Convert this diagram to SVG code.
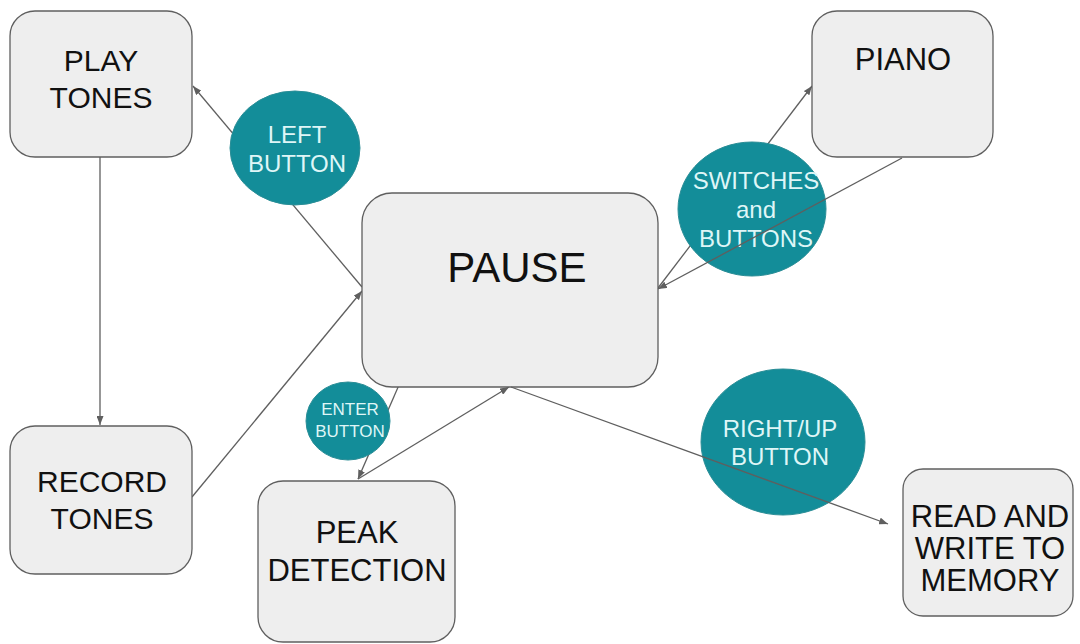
<svg xmlns="http://www.w3.org/2000/svg" width="1080" height="644" viewBox="0 0 1080 644">
  <defs>
    <style>
      .box { fill: #eeeeee; stroke: #5f5f5f; stroke-width: 1.3; }
      .btn { fill: #138d99; stroke: #2a8d96; stroke-width: 1; }
      .link { stroke: #5f5f5f; stroke-width: 1.3; fill: none; marker-end: url(#arrow); }
      .label { font-family: "Liberation Sans", Arial, sans-serif; fill: #111111; text-anchor: middle; font-size: 30px; }
      .blabel { font-family: "Liberation Sans", Arial, sans-serif; fill: #dff6f7; text-anchor: middle; font-size: 24px; }
    </style>
    <marker id="arrow" markerUnits="userSpaceOnUse" markerWidth="9" markerHeight="7" refX="9" refY="3.5" orient="auto">
      <path d="M0,0 L9,3.5 L0,7 z" fill="#5f5f5f"/>
    </marker>
  </defs>
  <rect width="1080" height="644" fill="#ffffff"/>

  <!-- connectors that pass beneath the button ovals -->
  <g id="connectors">
    <line class="link" x1="100" y1="157" x2="100" y2="425"/>
    <line class="link" x1="362" y1="287" x2="193" y2="86"/>
    <line class="link" x1="192" y1="497" x2="362" y2="291"/>
    <line class="link" x1="658" y1="288" x2="812" y2="86"/>
    <line class="link" x1="399" y1="385" x2="358" y2="479"/>
    <line class="link" x1="358" y1="479" x2="509" y2="387"/>
  </g>

  <g id="play-tones">
    <rect class="box" x="10" y="11" width="182" height="146" rx="25"/>
    <text class="label" x="101" y="71">PLAY</text>
    <text class="label" x="101" y="108">TONES</text>
  </g>

  <g id="record-tones">
    <rect class="box" x="10" y="426" width="182" height="148" rx="25"/>
    <text class="label" x="102" y="492">RECORD</text>
    <text class="label" x="102" y="529">TONES</text>
  </g>

  <g id="pause">
    <rect class="box" x="362" y="193" width="296" height="194" rx="30"/>
    <text class="label" x="517" y="282" style="font-size:42px">PAUSE</text>
  </g>

  <g id="piano">
    <rect class="box" x="812" y="11" width="181" height="146" rx="25"/>
    <text class="label" x="903" y="70" style="font-size:31px">PIANO</text>
  </g>

  <g id="peak-detection">
    <rect class="box" x="258" y="481" width="197" height="161" rx="25"/>
    <text class="label" x="357" y="543" style="font-size:31px">PEAK</text>
    <text class="label" x="357" y="581" style="font-size:31px">DETECTION</text>
  </g>

  <g id="read-write-memory">
    <rect class="box" x="903" y="469" width="170" height="147" rx="20"/>
    <text class="label" x="990" y="527" style="font-size:31px">READ AND</text>
    <text class="label" x="990" y="559" style="font-size:31px">WRITE TO</text>
    <text class="label" x="990" y="591" style="font-size:31px">MEMORY</text>
  </g>

  <g id="left-button">
    <ellipse class="btn" cx="295" cy="148" rx="65" ry="57"/>
    <text class="blabel" x="297" y="143">LEFT</text>
    <text class="blabel" x="297" y="172">BUTTON</text>
  </g>

  <g id="switches-and-buttons">
    <ellipse class="btn" cx="752" cy="209" rx="74" ry="67"/>
    <text class="blabel" x="756" y="189">SWITCHES</text>
    <text class="blabel" x="756" y="218">and</text>
    <text class="blabel" x="756" y="247">BUTTONS</text>
  </g>

  <g id="enter-button">
    <ellipse class="btn" cx="348" cy="421" rx="42" ry="39"/>
    <text class="blabel" x="350" y="415" style="font-size:17px">ENTER</text>
    <text class="blabel" x="350" y="437" style="font-size:17px">BUTTON</text>
  </g>

  <g id="right-up-button">
    <ellipse class="btn" cx="783" cy="442" rx="82" ry="73"/>
    <text class="blabel" x="780" y="437">RIGHT/UP</text>
    <text class="blabel" x="780" y="465">BUTTON</text>
  </g>

  <!-- connectors drawn across the button ovals -->
  <g id="connectors-over">
    <line class="link" x1="902" y1="158" x2="658" y2="289"/>
    <line class="link" x1="511" y1="387" x2="888" y2="524"/>
  </g>
</svg>
